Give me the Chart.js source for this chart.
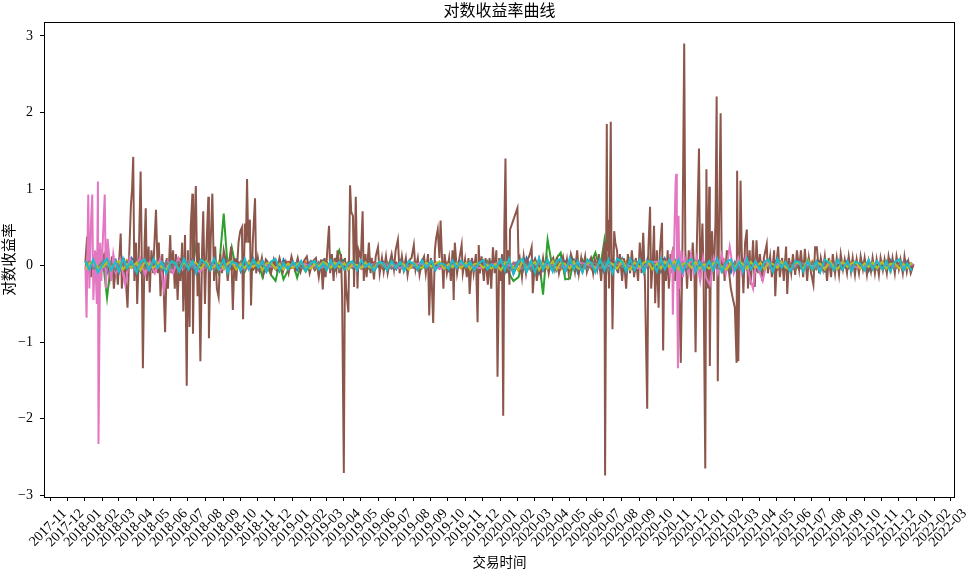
<!DOCTYPE html>
<html><head><meta charset="utf-8">
<script src="https://cdn.jsdelivr.net/npm/chart.js@4.4.1/dist/chart.umd.min.js"></script>
<style>html,body{margin:0;padding:0;background:#fff;}canvas{display:block;}</style>
</head><body>
<canvas id="c" width="968" height="570"></canvas>
<script>
const chartTitle = '对数收益率曲线';
const xTitle = '交易时间';
const yTitle = '对数收益率';
const monthTicks = ['2017-11','2017-12','2018-01','2018-02','2018-03','2018-04','2018-05','2018-06','2018-07','2018-08','2018-09','2018-10','2018-11','2018-12','2019-01','2019-02','2019-03','2019-04','2019-05','2019-06','2019-07','2019-08','2019-09','2019-10','2019-11','2019-12','2020-01','2020-02','2020-03','2020-04','2020-05','2020-06','2020-07','2020-08','2020-09','2020-10','2020-11','2020-12','2021-01','2021-02','2021-03','2021-04','2021-05','2021-06','2021-07','2021-08','2021-09','2021-10','2021-11','2021-12','2022-01','2022-02','2022-03'];
const yTicks = [-3,-2,-1,0,1,2,3];
const seriesNames = ['序列1','序列2','序列3','序列4','序列5','序列6','序列7','序列8','序列9','序列10'];
const seriesColors = ['#1f77b4','#ff7f0e','#2ca02c','#d62728','#9467bd','#8c564b','#e377c2','#7f7f7f','#bcbd22','#17becf'];

// sampling grid shared by the quiet series
const gridYears = [2018, 2019, 2020, 2021];
const gridDays = [2, 9, 16, 24];
const gridDates = [];
for (const y of gridYears) for (let m = 1; m <= 12; m++) for (const d of gridDays)
  gridDates.push(y + '-' + String(m).padStart(2,'0') + '-' + String(d).padStart(2,'0'));

const blueVals = [
0.05,-0.08,0.09,-0.03,0.07,-0.1,0.04,0.08,-0.09,0.05,-0.06,0.1,0.02,-0.08,0.09,-0.05,0.08,-0.03,-0.09,0.06,0.04,-0.1,0.08,-0.02,-0.07,0.09,-0.11,0.05,0.08,-0.05,0.03,-0.09,0.1,-0.06,0.02,0.08,-0.08,0.05,-0.04,0.09,-0.05,0.07,-0.08,0.03,0.05,-0.07,0.08,-0.04,
0.04,-0.06,0.05,-0.02,0.06,-0.05,0.02,0.07,-0.04,0.05,-0.07,0.03,0.08,-0.06,0.04,-0.05,0.05,-0.02,0.06,-0.07,0.03,0.05,-0.06,0.02,-0.05,0.07,-0.03,0.05,0.02,-0.06,0.05,-0.04,0.06,-0.05,0.03,0.02,-0.07,0.05,-0.02,0.06,-0.03,0.05,-0.06,0.03,0.07,-0.08,0.05,-0.03,
0.06,-0.09,0.08,-0.11,0.05,-0.08,0.1,-0.03,0.09,-0.1,0.06,-0.05,0.08,-0.06,0.09,-0.08,0.03,0.08,-0.09,0.05,-0.06,0.09,-0.03,0.06,-0.1,0.05,0.08,-0.06,0.09,-0.05,0.03,-0.08,0.06,-0.09,0.1,-0.03,0.05,-0.08,0.09,-0.06,0.08,-0.05,0.03,-0.09,0.06,-0.03,0.08,-0.05,
0.05,-0.08,0.09,-0.03,0.06,-0.09,0.05,-0.06,0.08,-0.05,0.03,-0.08,0.06,-0.03,0.05,-0.06,0.03,0.06,-0.05,0.02,-0.06,0.05,-0.03,0.07,-0.05,0.03,0.06,-0.07,0.05,-0.03,0.02,-0.06,0.07,-0.05,0.03,-0.02,0.06,-0.07,0.05,-0.03,0.03,-0.06,0.07,-0.05,0.02,-0.07,0.06,-0.03];
const orangeVals = [
-0.02,0.04,-0.05,0.06,-0.03,0.02,-0.06,0.05,0.03,-0.04,0.07,-0.02,-0.05,0.04,-0.01,0.06,-0.04,0.05,0.02,-0.06,0.04,-0.02,0.06,-0.05,0.03,-0.06,0.04,0.02,-0.05,0.06,-0.03,0.04,-0.02,0.05,-0.06,0.03,0.04,-0.05,0.06,-0.01,0.05,-0.03,0.02,-0.05,0.06,-0.02,0.03,-0.04,
-0.03,0.02,-0.04,0.05,-0.01,0.03,-0.05,0.02,0.04,-0.02,0.03,-0.04,-0.02,0.05,-0.03,0.01,-0.04,0.03,-0.02,0.04,0.01,-0.05,0.03,-0.02,0.04,-0.01,0.03,-0.04,-0.02,0.04,-0.03,0.05,-0.04,0.02,-0.01,0.03,0.05,-0.03,0.02,-0.04,0.03,-0.02,0.04,-0.05,-0.01,0.03,-0.04,0.02,
-0.05,0.06,-0.03,0.04,-0.07,0.05,-0.02,0.06,-0.04,0.03,-0.06,0.05,-0.02,0.07,-0.05,0.03,-0.06,0.04,-0.02,0.05,0.03,-0.05,0.06,-0.04,0.05,-0.02,-0.06,0.04,-0.03,0.06,-0.05,0.02,-0.04,0.05,-0.03,0.06,-0.05,0.04,-0.02,0.03,-0.06,0.05,-0.04,0.02,-0.03,0.06,-0.05,0.04,
-0.04,0.05,-0.03,0.06,-0.05,0.03,-0.02,0.05,-0.06,0.04,-0.03,0.02,-0.04,0.06,-0.02,0.03,0.05,-0.03,0.08,-0.04,0.03,-0.05,0.02,-0.03,0.06,-0.04,0.03,-0.02,0.05,-0.06,0.04,0.02,-0.03,0.05,-0.04,0.03,-0.02,0.06,-0.05,0.04,-0.03,0.02,-0.04,0.05,-0.02,0.04,-0.03,0.01];
const greenVals = [
0.02,-0.05,0.06,-0.04,0.05,-0.42,0.04,-0.06,0.06,-0.08,0.05,-0.03,0.04,-0.06,0.07,-0.05,0.03,-0.07,0.05,-0.02,0.06,-0.04,0.03,-0.08,0.05,-0.03,0.30,-0.05,0.04,-0.06,0.05,-0.10,0.68,-0.03,0.24,-0.06,0.05,-0.08,0.03,-0.05,0.04,-0.15,0.02,-0.12,-0.20,0.03,-0.18,-0.06,
0.03,-0.16,0.02,-0.08,0.05,-0.06,0.03,-0.04,0.04,-0.05,0.03,0.20,-0.05,0.04,-0.03,0.05,-0.04,0.03,-0.05,0.02,0.04,-0.03,0.05,-0.04,0.03,-0.05,0.02,0.04,-0.03,0.05,-0.04,0.02,0.04,-0.02,0.05,-0.05,0.03,-0.04,0.02,0.05,-0.05,0.03,-0.02,0.04,-0.04,0.06,-0.03,0.05,
-0.06,0.04,-0.10,-0.20,-0.15,0.05,-0.08,0.04,-0.10,0.08,-0.38,0.34,-0.05,0.10,0.17,-0.18,-0.17,0.06,-0.05,0.08,-0.06,0.05,0.17,-0.05,0.34,-0.08,0.05,-0.04,0.06,-0.05,0.04,-0.06,0.05,-0.04,0.06,-0.03,0.04,-0.06,0.05,-0.04,0.06,-0.05,0.03,-0.04,0.05,-0.03,0.04,-0.06,
0.04,-0.05,0.06,-0.03,0.05,-0.04,0.03,-0.06,0.04,-0.03,0.05,-0.02,0.03,-0.05,0.04,-0.03,0.05,-0.02,0.03,-0.04,0.02,-0.04,0.05,-0.03,0.04,-0.03,0.02,-0.05,0.03,-0.04,0.05,-0.02,0.04,-0.03,0.02,-0.04,0.05,-0.02,0.03,-0.05,0.02,-0.04,0.04,-0.03,0.03,-0.05,0.02,-0.03];
const redVals = [
0.05,-0.03,0.02,-0.06,0.04,0.06,-0.05,0.02,-0.03,0.05,-0.06,0.04,0.02,-0.04,0.07,-0.03,-0.05,0.03,0.04,-0.02,0.06,-0.05,0.02,0.03,-0.06,0.04,-0.02,0.05,0.03,-0.07,0.04,-0.01,0.05,-0.03,-0.04,0.06,0.02,-0.05,0.03,-0.04,0.06,-0.02,0.04,-0.06,0.03,-0.03,0.02,0.05,
0.03,-0.02,0.04,-0.03,0.02,-0.05,0.03,0.01,-0.04,0.02,0.03,-0.03,0.05,-0.02,0.01,-0.04,0.03,0.02,-0.03,0.04,-0.02,0.03,-0.05,0.02,0.04,-0.03,0.02,-0.01,0.03,-0.04,0.05,-0.02,0.01,0.03,-0.04,0.02,-0.03,0.04,-0.02,0.03,0.02,-0.05,0.03,-0.01,0.04,-0.02,0.03,-0.04,
0.06,-0.04,0.03,-0.07,0.05,-0.02,0.04,-0.06,0.07,-0.05,0.02,-0.04,0.06,-0.03,0.05,-0.02,-0.06,0.04,0.03,-0.05,0.02,0.06,-0.04,0.03,-0.05,0.07,-0.03,0.02,0.04,-0.06,0.05,-0.03,0.02,-0.04,0.06,-0.05,0.03,0.05,-0.02,0.04,-0.06,0.03,0.02,-0.04,0.05,-0.03,0.04,-0.02,
0.04,-0.03,0.05,-0.06,0.03,-0.02,0.04,-0.05,0.06,-0.03,0.02,-0.04,0.03,0.05,-0.02,0.04,-0.05,0.03,-0.01,0.02,0.04,-0.03,0.05,-0.02,0.03,-0.04,0.02,0.05,-0.03,0.04,-0.02,0.03,-0.04,0.02,0.05,-0.03,0.02,-0.04,0.03,-0.02,0.05,-0.03,0.02,-0.04,0.03,-0.02,0.04,-0.03];
const purpleVals = [
-0.04,0.06,-0.02,0.03,-0.06,0.04,0.02,-0.05,0.07,-0.03,0.04,-0.02,-0.05,0.03,-0.04,0.06,0.02,-0.06,0.05,-0.03,-0.02,0.04,-0.05,0.06,0.03,-0.04,0.02,-0.06,0.05,-0.02,0.04,-0.03,-0.05,0.06,-0.02,0.03,-0.04,0.05,-0.03,0.02,-0.06,0.04,-0.02,0.05,-0.03,0.06,-0.04,0.02,
-0.02,0.03,-0.04,0.02,0.05,-0.03,0.02,-0.01,0.03,-0.04,0.02,0.04,-0.03,0.01,-0.02,0.05,-0.04,0.02,0.03,-0.03,0.04,-0.02,0.01,-0.04,0.02,0.03,-0.05,0.02,-0.03,0.04,-0.01,0.03,-0.02,0.05,-0.03,0.02,0.03,-0.04,0.02,-0.02,0.04,-0.03,0.05,-0.02,0.02,-0.04,0.03,-0.01,
-0.05,0.04,-0.06,0.03,0.05,-0.04,0.06,-0.02,-0.03,0.05,-0.07,0.04,0.03,-0.05,0.02,0.06,-0.04,0.03,-0.05,0.02,0.06,-0.03,0.04,-0.06,0.02,-0.04,0.05,-0.03,0.06,-0.02,-0.05,0.04,-0.03,0.06,-0.04,0.02,0.05,-0.06,0.03,-0.02,0.04,-0.05,0.06,-0.03,0.02,-0.04,0.05,-0.02,
-0.03,0.05,-0.04,0.02,-0.06,0.04,-0.02,0.05,-0.03,0.06,-0.04,0.03,-0.05,0.02,-0.03,0.04,0.08,-0.02,0.03,-0.05,-0.03,0.04,-0.02,0.05,-0.04,0.02,-0.05,0.03,0.04,-0.03,0.06,-0.02,0.03,-0.05,0.02,-0.04,0.05,-0.02,0.03,-0.04,-0.02,0.05,-0.03,0.02,-0.04,0.03,-0.02,0.04];
const grayVals = [
0.02,0.05,-0.04,-0.02,0.06,-0.03,0.04,-0.06,0.02,0.04,-0.05,0.03,-0.02,0.06,-0.03,-0.05,0.04,0.02,-0.06,0.05,-0.03,0.03,0.05,-0.04,0.06,-0.02,-0.05,0.04,-0.03,0.05,-0.06,0.02,0.04,-0.04,0.03,-0.02,0.05,-0.06,0.04,0.03,-0.02,0.05,-0.04,0.02,-0.05,0.03,0.04,-0.03,
0.02,0.04,-0.03,-0.02,0.03,-0.04,0.05,-0.01,-0.02,0.03,0.02,-0.05,0.04,-0.02,0.03,-0.03,-0.01,0.05,-0.04,0.02,0.03,-0.02,0.04,-0.03,-0.04,0.02,0.03,-0.02,0.05,-0.03,-0.02,0.04,-0.03,0.02,0.04,-0.04,0.01,-0.03,0.05,-0.02,0.03,0.02,-0.04,0.03,-0.02,0.04,-0.03,0.02,
0.03,0.06,-0.05,-0.03,0.07,-0.04,0.02,-0.06,0.04,0.03,-0.05,0.06,-0.04,0.05,-0.02,-0.06,0.03,0.06,-0.04,0.02,-0.05,0.04,0.03,-0.03,0.05,-0.06,0.02,0.04,-0.02,0.03,-0.05,0.06,0.04,-0.03,-0.02,0.05,-0.06,0.03,0.04,-0.02,0.05,-0.04,0.03,-0.05,0.02,0.06,-0.03,0.04,
0.02,0.05,-0.04,-0.03,0.06,-0.02,0.04,-0.05,0.03,0.02,-0.04,0.05,-0.03,0.04,-0.02,-0.05,0.06,0.03,-0.03,0.02,-0.04,0.05,0.02,-0.03,0.04,-0.05,0.03,0.02,-0.03,0.04,-0.04,0.05,0.02,-0.03,0.06,-0.02,-0.04,0.03,0.02,-0.05,0.04,-0.02,0.03,-0.04,0.02,0.05,-0.03,0.03];
const oliveVals = [
-0.05,0.03,0.06,-0.03,-0.02,0.05,-0.04,0.03,0.06,-0.05,0.02,-0.03,0.04,-0.06,0.05,0.02,-0.03,0.04,-0.02,-0.05,0.05,0.03,-0.06,0.04,-0.02,0.05,0.03,-0.04,0.06,-0.03,-0.02,0.05,-0.04,0.03,0.06,-0.05,0.02,-0.03,0.04,-0.02,0.05,-0.06,0.03,0.04,-0.04,0.02,-0.05,0.03,
-0.03,0.02,0.04,-0.02,-0.04,0.03,-0.01,0.05,0.02,-0.03,0.04,-0.02,0.03,-0.05,0.02,0.01,-0.03,0.04,-0.02,-0.03,0.05,0.02,-0.04,0.03,-0.02,0.04,0.01,-0.05,0.03,-0.02,-0.03,0.04,-0.01,0.03,0.05,-0.04,0.02,-0.02,0.03,-0.03,0.04,-0.05,0.02,0.03,-0.03,0.01,-0.04,0.02,
-0.06,0.04,0.05,-0.03,-0.05,0.06,-0.04,0.02,0.05,-0.06,0.03,-0.04,0.06,-0.05,0.04,0.02,-0.04,0.05,-0.03,-0.06,0.04,0.03,-0.05,0.06,-0.03,0.05,0.02,-0.04,0.07,-0.03,-0.05,0.04,-0.02,0.04,0.06,-0.05,0.03,-0.04,0.05,-0.02,0.06,-0.05,0.02,0.04,-0.03,0.05,-0.04,0.02,
-0.04,0.03,0.05,-0.02,-0.05,0.04,-0.03,0.06,0.02,-0.04,0.05,-0.03,0.04,-0.05,0.03,0.02,-0.03,0.05,-0.02,-0.06,0.04,0.03,-0.05,0.08,-0.06,0.04,0.02,-0.05,0.06,-0.03,-0.04,0.05,-0.02,0.03,0.05,-0.04,0.03,-0.02,0.04,-0.03,0.05,-0.04,0.02,0.03,-0.04,0.02,-0.03,0.04];
const cyanVals = [
0.06,-0.05,0.08,-0.09,0.03,0.09,-0.06,0.05,-0.08,0.1,-0.03,0.06,-0.09,0.05,0.08,-0.06,0.09,-0.03,0.05,-0.1,0.06,0.03,-0.08,0.09,-0.05,0.06,-0.09,0.08,0.03,-0.06,0.09,-0.05,0.08,-0.09,0.05,0.03,-0.06,0.09,-0.05,0.08,-0.03,0.06,-0.08,0.05,0.09,-0.06,0.03,-0.05,
0.05,-0.03,0.06,-0.07,0.03,0.06,-0.05,0.03,-0.06,0.07,-0.03,0.05,-0.05,0.03,0.06,-0.06,0.07,-0.02,0.03,-0.07,0.05,0.03,-0.06,0.06,-0.03,0.05,-0.07,0.06,0.02,-0.05,0.07,-0.03,0.06,-0.06,0.03,0.02,-0.05,0.07,-0.03,0.06,-0.02,0.05,-0.06,0.03,0.07,-0.05,0.02,-0.03,
0.08,-0.06,0.09,-0.1,0.05,0.09,-0.08,0.06,-0.09,0.1,-0.05,0.08,-0.08,0.06,0.09,-0.08,0.1,-0.05,0.06,-0.09,0.08,0.03,-0.09,0.08,-0.06,0.08,-0.1,0.09,0.05,-0.08,0.09,-0.06,0.08,-0.09,0.06,0.05,-0.08,0.09,-0.05,0.08,-0.06,0.08,-0.09,0.05,0.09,-0.08,0.05,-0.06,
0.06,-0.06,0.09,-0.08,0.05,0.08,-0.06,0.05,-0.08,0.09,-0.05,0.06,-0.06,0.05,0.08,-0.08,0.09,-0.03,0.05,-0.08,0.06,0.05,-0.08,0.06,-0.05,0.06,-0.09,0.08,0.03,-0.06,0.08,-0.05,0.06,-0.08,0.05,0.03,-0.06,0.08,-0.05,0.06,-0.05,0.06,-0.08,0.05,0.08,-0.06,0.03,-0.07];

const brownDates = [
'2018-01-02','2018-01-05','2018-01-08','2018-01-10','2018-01-12','2018-01-17','2018-01-21','2018-01-24','2018-01-28','2018-01-31',
'2018-02-04','2018-02-07','2018-02-11','2018-02-14','2018-02-18','2018-02-21','2018-02-25','2018-02-28',
'2018-03-05','2018-03-07','2018-03-11','2018-03-14','2018-03-17','2018-03-20','2018-03-23','2018-03-25','2018-03-27','2018-03-29',
'2018-04-01','2018-04-03','2018-04-06','2018-04-09','2018-04-11','2018-04-13','2018-04-16','2018-04-18','2018-04-20','2018-04-23','2018-04-25','2018-04-28',
'2018-05-01','2018-05-03','2018-05-06','2018-05-09','2018-05-11','2018-05-14','2018-05-17','2018-05-19','2018-05-22','2018-05-25','2018-05-27','2018-05-31',
'2018-06-02','2018-06-05','2018-06-08','2018-06-10','2018-06-13','2018-06-16','2018-06-18','2018-06-21','2018-06-23','2018-06-26','2018-06-29',
'2018-07-01','2018-07-04','2018-07-06','2018-07-09','2018-07-10','2018-07-13','2018-07-15','2018-07-18','2018-07-20','2018-07-23','2018-07-26','2018-07-28','2018-07-31',
'2018-08-03','2018-08-06','2018-08-07','2018-08-10','2018-08-13','2018-08-16','2018-08-18','2018-08-21','2018-08-24','2018-08-27','2018-08-30',
'2018-09-02','2018-09-06','2018-09-09','2018-09-13','2018-09-15','2018-09-18','2018-09-21','2018-09-24','2018-09-28',
'2018-10-01','2018-10-04','2018-10-06','2018-10-09','2018-10-11','2018-10-13','2018-10-15','2018-10-18','2018-10-20','2018-10-23','2018-10-27','2018-10-29',
'2018-11-01','2018-11-04','2018-11-08','2018-11-11','2018-11-15','2018-11-18','2018-11-24','2018-11-29',
'2018-12-04','2018-12-09','2018-12-15','2018-12-20','2018-12-25','2018-12-30',
'2019-01-05','2019-01-10','2019-01-15','2019-01-21','2019-01-26','2019-01-31',
'2019-02-05','2019-02-11','2019-02-16','2019-02-20','2019-02-23','2019-02-26','2019-02-28',
'2019-03-03','2019-03-06','2019-03-08','2019-03-11','2019-03-14','2019-03-16','2019-03-19','2019-03-21','2019-03-24','2019-03-27','2019-03-29',
'2019-04-01','2019-04-03','2019-04-05','2019-04-09','2019-04-12','2019-04-14','2019-04-17','2019-04-19','2019-04-22','2019-04-25','2019-04-27',
'2019-05-01','2019-05-04','2019-05-06','2019-05-09','2019-05-11','2019-05-15','2019-05-18','2019-05-20','2019-05-24','2019-05-27','2019-05-31',
'2019-06-03','2019-06-07','2019-06-10','2019-06-14','2019-06-17','2019-06-21','2019-06-24','2019-06-28',
'2019-07-01','2019-07-05','2019-07-08','2019-07-12','2019-07-15','2019-07-19','2019-07-22','2019-07-26','2019-07-29',
'2019-08-02','2019-08-05','2019-08-09','2019-08-12','2019-08-16','2019-08-20','2019-08-23','2019-08-27','2019-08-29',
'2019-09-01','2019-09-05','2019-09-08','2019-09-10','2019-09-13','2019-09-16','2019-09-18','2019-09-20','2019-09-23','2019-09-25','2019-09-29',
'2019-10-03','2019-10-06','2019-10-09','2019-10-11','2019-10-13','2019-10-17','2019-10-20','2019-10-25','2019-10-27','2019-10-31',
'2019-11-03','2019-11-06','2019-11-08','2019-11-12','2019-11-15','2019-11-19','2019-11-22','2019-11-24','2019-11-26','2019-11-29',
'2019-12-03','2019-12-06','2019-12-10','2019-12-13','2019-12-16','2019-12-19','2019-12-22','2019-12-25','2019-12-27','2019-12-30',
'2020-01-01','2020-01-04','2020-01-06','2020-01-08','2020-01-10','2020-01-12','2020-01-15','2020-01-17','2020-01-18','2020-01-31',
'2020-02-02','2020-02-04','2020-02-08','2020-02-11','2020-02-15','2020-02-18','2020-02-22','2020-02-25','2020-02-27',
'2020-03-02','2020-03-05','2020-03-09','2020-03-12','2020-03-16','2020-03-19','2020-03-23','2020-03-26','2020-03-30',
'2020-04-03','2020-04-06','2020-04-10','2020-04-13','2020-04-17','2020-04-20','2020-04-24','2020-04-27','2020-04-30',
'2020-05-04','2020-05-08','2020-05-11','2020-05-15','2020-05-18','2020-05-22','2020-05-25','2020-05-29',
'2020-06-01','2020-06-05','2020-06-08','2020-06-12','2020-06-15','2020-06-19','2020-06-22','2020-06-26','2020-06-29',
'2020-07-02','2020-07-03','2020-07-06','2020-07-07','2020-07-08','2020-07-10','2020-07-13','2020-07-14','2020-07-16','2020-07-19','2020-07-21','2020-07-24','2020-07-26','2020-07-29',
'2020-08-02','2020-08-05','2020-08-09','2020-08-12','2020-08-16','2020-08-19','2020-08-23','2020-08-26','2020-08-30',
'2020-09-02','2020-09-05','2020-09-08','2020-09-11','2020-09-15','2020-09-17','2020-09-20','2020-09-22','2020-09-25','2020-09-27','2020-09-29',
'2020-10-02','2020-10-05','2020-10-07','2020-10-11','2020-10-13','2020-10-15','2020-10-18','2020-10-21','2020-10-23','2020-10-26','2020-10-29','2020-10-31',
'2020-11-03','2020-11-06','2020-11-10','2020-11-13','2020-11-16','2020-11-19','2020-11-21','2020-11-24','2020-11-27',
'2020-12-01','2020-12-04','2020-12-07','2020-12-09','2020-12-11','2020-12-15','2020-12-17','2020-12-21','2020-12-23','2020-12-26','2020-12-28','2020-12-30',
'2021-01-02','2021-01-03','2021-01-05','2021-01-07','2021-01-10','2021-01-13','2021-01-15','2021-01-17','2021-01-19','2021-01-22','2021-01-24','2021-01-27','2021-01-29',
'2021-02-02','2021-02-06','2021-02-09','2021-02-13','2021-02-16','2021-02-19','2021-02-20','2021-02-22','2021-02-26','2021-02-28',
'2021-03-03','2021-03-06','2021-03-09','2021-03-11','2021-03-14','2021-03-16','2021-03-20','2021-03-23','2021-03-26','2021-03-29',
'2021-04-01','2021-04-05','2021-04-08','2021-04-13','2021-04-15','2021-04-19','2021-04-22','2021-04-26','2021-04-28',
'2021-05-01','2021-05-03','2021-05-06','2021-05-10','2021-05-13','2021-05-17','2021-05-19','2021-05-22','2021-05-26','2021-05-29',
'2021-06-02','2021-06-05','2021-06-09','2021-06-12','2021-06-16','2021-06-19','2021-06-23','2021-06-26','2021-06-30',
'2021-07-04','2021-07-07','2021-07-10','2021-07-14','2021-07-17','2021-07-21','2021-07-24','2021-07-28','2021-07-31',
'2021-08-04','2021-08-07','2021-08-11','2021-08-14','2021-08-18','2021-08-21','2021-08-25','2021-08-28',
'2021-09-01','2021-09-04','2021-09-08','2021-09-11','2021-09-15','2021-09-18','2021-09-22','2021-09-25','2021-09-29',
'2021-10-02','2021-10-06','2021-10-09','2021-10-13','2021-10-16','2021-10-20','2021-10-23','2021-10-27','2021-10-30',
'2021-11-03','2021-11-06','2021-11-10','2021-11-13','2021-11-17','2021-11-20','2021-11-24','2021-11-27',
'2021-12-01','2021-12-04','2021-12-08','2021-12-11','2021-12-15','2021-12-18','2021-12-22','2021-12-27'];
const brownVals = [
0.05,0.38,-0.1,0.1,-0.15,0.12,0.15,-0.1,0.2,0.18,
0.1,0.2,0.05,-0.15,0.12,-0.3,0.05,-0.25,
0.42,-0.3,0.1,-0.2,-0.55,0.15,0.8,1.0,1.42,-0.2,
0.3,-0.5,0.2,1.23,0.1,-1.34,0.3,0.75,-0.2,0.25,-0.35,0.2,
-0.1,0.25,0.73,-0.1,0.3,-0.4,0.15,-0.2,-0.87,0.1,-0.3,0.4,
-0.1,0.2,-0.3,0.15,-0.45,0.1,-0.2,0.3,-0.6,0.4,-1.57,
0.2,-0.8,0.5,0.94,-0.89,0.6,1.04,-0.4,0.3,-1.25,0.2,0.71,-0.5,
0.3,0.9,-0.95,0.3,0.94,-0.2,0.25,-0.3,-0.41,0.15,-0.1,
0.2,0.05,-0.2,0.1,0.25,-0.58,0.1,-0.2,0.3,
0.45,0.5,-0.7,0.55,0.3,1.13,0.3,0.6,-0.52,0.3,0.88,-0.1,
0.1,-0.05,0.1,-0.1,0.08,0.05,-0.1,0.08,
-0.05,0.1,-0.08,0.05,-0.1,0.12,
-0.05,0.1,-0.08,0.06,0.12,-0.1,
0.05,0.1,-0.15,0.08,-0.31,0.1,-0.15,
0.2,0.52,-0.1,0.15,-0.2,0.1,-0.05,0.2,-0.1,0.15,-0.4,
-2.71,0.1,-0.3,-0.61,1.05,0.7,0.65,-0.28,0.9,-0.3,0.2,
0.1,0.71,-0.2,0.15,-0.15,0.3,-0.1,0.1,-0.18,0.12,0.24,
-0.1,0.1,-0.08,0.12,-0.1,0.05,0.15,-0.05,
0.2,0.34,-0.1,0.12,-0.05,0.1,-0.12,0.08,0.1,
0.27,-0.05,0.1,-0.12,0.05,0.12,-0.1,0.15,-0.65,
0.1,-0.75,0.2,0.35,0.47,0.1,0.59,0.2,-0.3,0.15,-0.1,
0.1,-0.2,0.2,-0.45,0.3,-0.1,0.05,0.27,-0.1,0.08,
-0.15,0.1,-0.37,0.1,-0.1,0.15,-0.74,0.27,-0.1,0.12,
-0.2,0.1,-0.25,0.1,-0.3,0.24,-0.1,0.2,-1.45,0.1,
-0.2,0.15,-1.96,0.5,1.40,-0.1,0.2,-0.25,0.47,0.75,
0.05,0.1,-0.15,0.12,-0.1,0.08,0.15,0.24,-0.36,
0.1,-0.2,0.05,-0.1,0.1,-0.05,0.08,-0.1,0.05,
0.1,-0.05,0.08,-0.1,0.05,0.12,-0.06,0.08,-0.1,
0.15,0.05,-0.08,0.2,-0.1,0.1,-0.05,0.12,
-0.08,0.05,0.1,-0.1,0.08,-0.05,0.15,-0.2,0.1,
0.3,-2.74,1.85,0.2,0.6,-0.3,1.88,0.4,-0.83,0.45,0.3,0.2,-0.1,0.15,
-0.2,0.1,-0.3,0.15,-0.1,0.2,-0.15,0.1,-0.2,
0.3,-0.1,0.43,-0.2,-1.87,0.2,0.77,-0.3,0.1,0.52,-0.49,
0.2,-0.55,0.15,0.56,-1.11,0.1,-0.2,0.2,-0.3,0.15,-0.1,0.25,
-0.2,0.1,-0.15,-1.27,0.3,2.90,0.2,-0.3,0.2,
-0.2,0.3,-0.1,-1.13,0.2,1.53,-0.2,0.55,-0.1,-2.65,1.26,-0.3,
1.03,-1.31,0.3,0.45,-0.2,0.6,2.21,-1.51,0.4,1.99,-0.1,0.1,-0.2,
0.2,-0.1,-0.3,-0.45,-0.55,-1.27,1.24,-1.25,1.11,0.2,
-0.36,0.3,0.47,-0.3,0.2,-0.25,0.33,-0.28,0.33,-0.1,
0.15,-0.2,0.1,0.28,-0.1,0.12,-0.15,0.2,-0.4,
0.1,0.25,-0.15,0.1,-0.2,0.25,-0.37,0.1,-0.1,0.15,
-0.12,0.2,-0.05,0.2,-0.15,0.22,-0.2,0.1,-0.1,
-0.25,0.24,0.24,-0.1,0.1,-0.05,0.12,-0.2,0.1,
-0.15,0.15,-0.1,0.1,-0.12,0.15,-0.05,0.08,
-0.1,0.12,-0.08,0.1,-0.12,0.08,-0.1,0.12,-0.05,
0.1,-0.12,0.06,-0.08,0.1,-0.1,0.08,-0.12,0.1,
-0.06,0.08,-0.1,0.12,-0.05,0.1,-0.1,0.12,
-0.05,0.08,-0.1,0.12,-0.08,0.05,-0.1,0.02];

const pinkDates = [
'2018-01-02','2018-01-04','2018-01-07','2018-01-09','2018-01-12','2018-01-14','2018-01-16','2018-01-19','2018-01-22','2018-01-24','2018-01-25','2018-01-28','2018-01-30',
'2018-02-02','2018-02-05','2018-02-07','2018-02-10','2018-02-13','2018-02-16','2018-02-20','2018-02-25',
'2018-03-04','2018-03-13','2018-03-21','2018-03-30','2018-04-08','2018-04-17','2018-04-25','2018-05-04','2018-05-13','2018-05-20','2018-05-27',
'2018-06-05','2018-06-14','2018-06-22','2018-07-04','2018-07-22','2018-08-09','2018-08-27','2018-09-13','2018-10-09','2018-11-04','2018-12-09',
'2019-01-13','2019-02-17','2019-03-24','2019-04-27','2019-06-03','2019-07-08','2019-08-12','2019-09-17','2019-10-22','2019-11-26','2019-12-31',
'2020-02-04','2020-03-10','2020-04-14','2020-05-19','2020-06-23','2020-07-28','2020-09-02','2020-09-28',
'2020-10-22','2020-10-25','2020-10-29','2020-10-30','2020-11-02','2020-11-04','2020-11-05','2020-11-06','2020-11-08','2020-11-09','2020-11-11','2020-11-14','2020-11-17','2020-11-20','2020-11-26',
'2020-12-01','2020-12-06','2020-12-11','2020-12-17','2020-12-22','2020-12-27',
'2021-01-03','2021-01-10','2021-01-17','2021-01-24','2021-01-31','2021-02-07','2021-02-14','2021-02-22','2021-02-28',
'2021-03-07','2021-03-14','2021-03-20','2021-03-25','2021-04-01','2021-04-06','2021-04-13','2021-04-22',
'2021-05-06','2021-05-24','2021-06-10','2021-07-15','2021-08-19','2021-09-23','2021-10-28','2021-12-03','2021-12-27'];
const pinkVals = [
0.0,-0.68,0.93,-0.3,0.6,0.93,-0.45,0.2,-0.5,1.10,-2.33,0.3,-0.2,
0.4,0.93,-0.3,0.35,0.1,-0.2,0.15,-0.1,
0.08,-0.25,0.1,-0.05,0.1,-0.12,0.05,-0.1,0.08,-0.32,0.05,
-0.1,0.1,-0.05,0.06,-0.08,0.05,-0.06,0.04,-0.05,0.03,-0.04,
0.03,-0.03,0.04,-0.03,0.04,-0.03,0.03,-0.04,0.03,-0.03,0.04,
-0.04,0.03,-0.03,0.04,-0.03,0.03,-0.04,0.05,
0.05,-0.1,0.2,-0.64,0.5,1.1,1.20,0.4,-1.34,0.65,-0.3,0.2,-0.15,0.1,-0.1,
0.15,-0.1,0.1,-0.2,0.1,-0.15,
-0.25,0.1,-0.1,0.15,-0.1,0.25,-0.1,0.1,-0.1,
0.1,-0.15,-0.3,0.05,-0.1,-0.2,0.05,-0.06,
0.05,-0.05,0.04,-0.04,0.04,-0.03,0.04,-0.03,0.02];

const dayNum = s => { const p = s.split('-').map(Number); return Date.UTC(p[0], p[1] - 1, p[2] || 1) / 86400000; };
const toPoints = (dates, vals) => dates.map((d, i) => ({ x: dayNum(d), y: vals[i] })).filter(p => p.y !== undefined);

const seriesData = [
  toPoints(gridDates, blueVals), toPoints(gridDates, orangeVals), toPoints(gridDates, greenVals),
  toPoints(gridDates, redVals), toPoints(gridDates, purpleVals), toPoints(brownDates, brownVals),
  toPoints(pinkDates, pinkVals), toPoints(gridDates, grayVals), toPoints(gridDates, oliveVals),
  toPoints(gridDates, cyanVals)
];

// matplotlib-style 5% margins
const allX = seriesData.flat().map(p => p.x), allY = seriesData.flat().map(p => p.y);
const xLo = Math.min(...allX), xHi = Math.max(...allX);
const yLo = Math.min(...allY), yHi = Math.max(...allY);
const xPad = (xHi - xLo) * 0.05, yPad = (yHi - yLo) * 0.05;

const serif = "'Liberation Serif', 'DejaVu Serif', serif";
const cjk = "'Noto Sans CJK SC', 'Noto Sans', sans-serif";

const decor = {
  id: 'decor',
  afterDraw(chart) {
    const { ctx, chartArea: a, scales } = chart;
    ctx.save();
    ctx.strokeStyle = '#000'; ctx.lineWidth = 1;
    ctx.strokeRect(Math.round(a.left) + 0.5, Math.round(a.top) + 0.5, Math.round(a.right - a.left) - 1, Math.round(a.bottom - a.top));
    // x tick labels, rotated 45°, centred under tick
    ctx.fillStyle = '#000';
    ctx.font = '14px ' + serif;
    ctx.textAlign = 'center'; ctx.textBaseline = 'middle';
    scales.x.ticks.forEach((t, i) => {
      const lab = monthTicks[i];
      const px = scales.x.getPixelForValue(t.value);
      const L = ctx.measureText(lab).width, H = 10;
      const cy = a.bottom + 11 + (L + H) * Math.SQRT1_2 / 2;
      ctx.save(); ctx.translate(px - 2, cy); ctx.rotate(-Math.PI / 4); ctx.fillText(lab, 0, 0); ctx.restore();
    });
    // title
    ctx.font = '16px ' + cjk;
    ctx.fillText(chartTitle, (a.left + a.right) / 2, 10);
    // x axis title
    ctx.font = '13.5px ' + cjk;
    ctx.fillText(xTitle, (a.left + a.right) / 2, 562);
    // y axis title
    ctx.save(); ctx.translate(8, (a.top + a.bottom) / 2); ctx.rotate(-Math.PI / 2);
    ctx.font = '14.5px ' + cjk; ctx.fillText(yTitle, 0, 0); ctx.restore();
    ctx.restore();
  }
};

new Chart(document.getElementById('c'), {
  type: 'line',
  data: {
    datasets: seriesData.map((pts, i) => ({
      label: seriesNames[i], data: pts, borderColor: seriesColors[i], backgroundColor: seriesColors[i],
      borderWidth: 2, pointRadius: 0, tension: 0, fill: false, order: 9 - i
    }))
  },
  options: {
    responsive: false, animation: false, events: [],
    layout: { padding: { top: 22, right: 13, left: 0, bottom: 0 } },
    plugins: { legend: { display: false }, title: { display: false }, tooltip: { enabled: false } },
    scales: {
      x: {
        type: 'linear', min: xLo - xPad, max: xHi + xPad,
        afterBuildTicks: ax => { ax.ticks = monthTicks.map(m => ({ value: dayNum(m + '-01') })); },
        afterFit: ax => { ax.height = 73; },
        ticks: { display: false, autoSkip: false },
        grid: { drawOnChartArea: false, drawTicks: true, tickLength: 4, tickColor: '#000', tickWidth: 1 },
        border: { display: false }
      },
      y: {
        type: 'linear', min: yLo - yPad, max: yHi + yPad,
        afterBuildTicks: ax => { ax.ticks = yTicks.map(v => ({ value: v })); },
        afterFit: ax => { ax.width = 44; },
        ticks: { color: '#000', padding: 7, font: { family: serif, size: 14 },
                 callback: v => String(v).replace('-', '\u2212') },
        grid: { drawOnChartArea: false, drawTicks: true, tickLength: 4, tickColor: '#000', tickWidth: 1 },
        border: { display: false }
      }
    }
  },
  plugins: [decor]
});
</script>
</body></html>
